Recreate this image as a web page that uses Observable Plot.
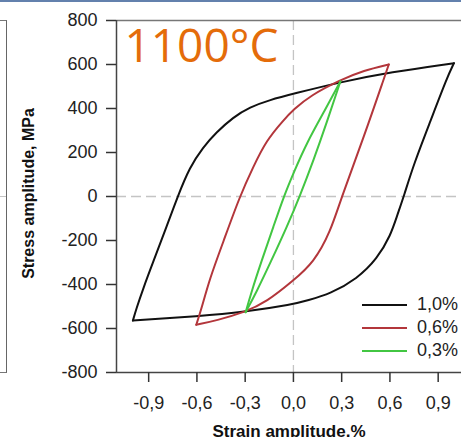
<!DOCTYPE html>
<html>
<head>
<meta charset="utf-8">
<script src="https://cdn.jsdelivr.net/npm/d3@7"></script>
<script src="https://cdn.jsdelivr.net/npm/@observablehq/plot@0.6"></script>
<style>
  html, body { margin: 0; padding: 0; background: #fff; overflow: hidden; }
  #wrap { position: relative; width: 461px; height: 437px; }
  #topbar { position: absolute; left: 0; top: 0; width: 461px; height: 2px; background: #6381ad; }
  #prevpanel { position: absolute; left: 0; top: 20px; width: 6px; height: 351px;
    border-top: 1.5px solid #777; border-right: 1.5px solid #666; border-bottom: 1.5px solid #777; }
  #prevzero { position: absolute; left: 0; top: 196px; width: 6px; border-top: 1px dashed #c4c4c4; }
  #legend { position: absolute; left: 362px; top: 293px; font-family: "Liberation Sans", Arial, sans-serif;
    font-size: 18px; color: #222; }
  .row { display: flex; align-items: center; height: 23px; }
  .sw { width: 45px; height: 0; margin-right: 10px; }
</style>
</head>
<body>
<div id="wrap"><div id="topbar"></div><div id="prevpanel"></div><div id="prevzero"></div></div>
<script>
// ---- data ----
const titleText = "1100°C";
const xLabel = "Strain amplitude,%";
const yLabel = "Stress amplitude, MPa";
const xTicks = [-0.9, -0.6, -0.3, 0, 0.3, 0.6, 0.9];
const yTicks = [-800, -600, -400, -200, 0, 200, 400, 600, 800];
const seriesNames = ["1,0%", "0,6%", "0,3%"];
const seriesColors = ["#111111", "#b3363b", "#42c642"];

// 1,0 % loop : [strain, stress]
const loop10Up = [[-0.998,-564],[-0.977,-511],[-0.935,-420],[-0.873,-299],[-0.801,-162],[-0.720,0],
  [-0.645,133],[-0.562,224],[-0.479,292],[-0.375,360],[-0.272,406],[-0.147,439],[0,467],
  [0.292,520],[0.604,565],[0.998,606]];
const loop10Down = [[0.998,606],[0.956,542],[0.853,345],[0.749,149],[0.686,0],[0.645,-86],
  [0.604,-177],[0.521,-283],[0.396,-374],[0.230,-442],[0.085,-473],[0,-490],[-0.313,-526],
  [-0.583,-544],[-0.998,-564]];
// 0,6 % loop
const loop06Up = [[-0.604,-583],[-0.572,-511],[-0.521,-374],[-0.437,-208],[-0.334,0],[-0.251,133],
  [-0.168,255],[-0.064,345],[0,395],[0.106,459],[0.292,530],[0.438,573],[0.593,600]];
const loop06Down = [[0.593,600],[0.573,558],[0.438,270],[0.300,0],[0.230,-162],[0.127,-299],
  [0,-382],[-0.168,-480],[-0.303,-526],[-0.479,-564],[-0.604,-583]];
// 0,3 % loop
const loop03Up = [[-0.297,-526],[-0.262,-436],[-0.201,-299],[-0.122,-132],[-0.060,0],[0.002,110],
  [0.085,247],[0.189,383],[0.292,523]];
const loop03Down = [[0.292,523],[0.201,323],[0.128,171],[0.039,0],[-0.037,-132],[-0.142,-299],
  [-0.231,-436],[-0.297,-526]];

// ---- build table ----
const branches = [
  [seriesNames[0], "up", loop10Up], [seriesNames[0], "down", loop10Down],
  [seriesNames[1], "up", loop06Up], [seriesNames[1], "down", loop06Down],
  [seriesNames[2], "up", loop03Up], [seriesNames[2], "down", loop03Down]
];
const rows = branches.flatMap(([s, b, pts]) =>
  pts.map(([x, y]) => ({strain: x, stress: y, series: s, branch: s + b})));

const fmtX = d => d.toFixed(1).replace(".", ",");
const fmtY = d => String(d);

const chart = Plot.plot({
  width: 461, height: 437,
  marginLeft: 116, marginRight: 0, marginTop: 20, marginBottom: 65,
  x: {domain: [-1.1, 1.045]},
  y: {domain: [-800, 800]},
  color: {domain: seriesNames, range: seriesColors},
  style: {fontFamily: "'Liberation Sans', Arial, sans-serif", fontSize: "18px", color: "#222", background: "#fff", overflow: "visible"},
  marks: [
    Plot.ruleX([0], {stroke: "#c4c4c4", strokeWidth: 1.3, strokeDasharray: "10,5"}),
    Plot.ruleY([0], {stroke: "#c4c4c4", strokeWidth: 1.3, strokeDasharray: "10,5"}),
    Plot.ruleY([800], {stroke: "#777", strokeWidth: 1.5}),
    Plot.ruleY([-800], {stroke: "#444", strokeWidth: 1.5}),
    Plot.ruleX([-1.1], {stroke: "#444", strokeWidth: 1.5}),
    Plot.axisX({ticks: xTicks, tickFormat: fmtX, tickSize: 10, tickPadding: 14, label: null, stroke: "#333", strokeWidth: 1.5}),
    Plot.axisY({ticks: yTicks, tickFormat: fmtY, tickSize: 10, tickPadding: 9, label: null, stroke: "#333", strokeWidth: 1.5}),
    Plot.line(rows, {x: "strain", y: "stress", z: "branch", stroke: "series", strokeWidth: 2, curve: "basis"}),
    Plot.text([titleText], {frameAnchor: "top-left", dx: 8, dy: 27, textAnchor: "start", lineAnchor: "middle",
      fontSize: 46, fill: "#e46c0a", fontFamily: "'Open Sans', sans-serif"}),
    Plot.text([yLabel], {frameAnchor: "left", dx: -87.5, dy: -3, rotate: -90, textAnchor: "middle", fontSize: 16, fontWeight: "bold", fill: "#111"}),
    Plot.text([xLabel], {frameAnchor: "bottom", dy: 52, lineAnchor: "top", textAnchor: "middle", fontSize: 17, fontWeight: "bold", fill: "#111"})
  ]
});
const wrap = document.getElementById("wrap");
wrap.insertBefore(chart, wrap.firstChild);

// legend (HTML, from the series arrays)
const legend = document.createElement("div");
legend.id = "legend";
seriesNames.forEach((name, i) => {
  const row = document.createElement("div");
  row.className = "row";
  const sw = document.createElement("span");
  sw.className = "sw";
  sw.style.borderTop = `2px solid ${seriesColors[i]}`;
  const lab = document.createElement("span");
  lab.textContent = name;
  row.appendChild(sw); row.appendChild(lab);
  legend.appendChild(row);
});
wrap.appendChild(legend);
</script>
</body>
</html>
